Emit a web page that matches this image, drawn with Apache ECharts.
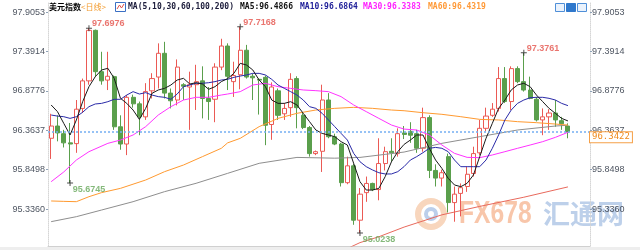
<!DOCTYPE html>
<html>
<head>
<meta charset="utf-8">
<title>美元指数 日线</title>
<script src="https://cdn.jsdelivr.net/npm/echarts@6/dist/echarts.min.js"></script>
<style>
  html, body { margin: 0; padding: 0; background: #fff; }
  #chart { width: 640px; height: 250px; }
</style>
</head>
<body>
<div id="chart"></div>
<script>
// daily candles
const opens = [96.26, 96.42, 96.32, 96.20, 96.19, 96.65, 97.01, 97.67, 97.13, 97.02,
  97.065, 96.41, 96.185, 96.795, 96.71, 96.54, 96.88, 97.06, 97.37, 96.85,
  96.76, 96.96, 96.93, 96.96, 97.01, 96.78, 96.77, 97.19, 97.465, 97.00,
  97.09, 97.41, 97.07, 97.03, 97.056, 96.44, 96.88, 96.58, 96.66, 97.04,
  96.56, 96.40, 96.06, 96.09, 96.76, 96.28, 96.185, 95.68, 95.90, 95.19,
  95.55, 95.67, 95.59, 95.93, 96.09, 96.06, 96.33, 96.35, 96.32, 96.13,
  96.53, 95.84, 95.74, 96.02, 95.42, 95.54, 95.63, 95.80, 96.07, 96.39,
  96.56, 96.65, 97.04, 96.74, 97.17, 97.00, 96.89, 96.77, 96.50, 96.54,
  96.59, 96.49, 96.42]
const closes = [96.42, 96.33, 96.20, 96.185, 96.64, 97.01, 97.67, 97.13, 97.01, 97.07,
  96.41, 96.185, 96.795, 96.71, 96.54, 96.87, 97.04, 97.37, 96.85, 96.75,
  97.19, 96.94, 96.96, 97.00, 96.78, 96.74, 97.19, 97.465, 97.07, 97.08,
  97.41, 97.06, 97.05, 97.02, 96.43, 96.93, 96.56, 96.65, 97.03, 96.66,
  96.40, 96.06, 96.085, 96.76, 96.28, 96.185, 95.68, 95.90, 95.19, 95.53,
  95.67, 95.59, 95.93, 96.085, 96.07, 96.32, 96.31, 96.30, 96.13, 96.53,
  95.84, 95.74, 95.81, 95.42, 95.53, 95.615, 95.79, 96.06, 96.39, 96.55,
  96.64, 97.04, 96.74, 97.17, 97.00, 96.89, 96.78, 96.50, 96.54, 96.59,
  96.50, 96.45, 96.3422]
const lows = [95.99, 96.22, 96.14, 95.6745, 96.07, 96.59, 96.96, 97.06, 96.96, 96.89,
  96.37, 96.11, 96.04, 96.66, 96.30, 96.50, 96.78, 96.91, 96.78, 96.65,
  96.69, 96.76, 96.37, 96.63, 96.52, 96.50, 96.47, 97.15, 96.89, 96.80,
  96.90, 97.04, 96.76, 96.57, 96.17, 96.24, 96.50, 96.50, 96.54, 96.39,
  96.38, 96.02, 96.04, 95.82, 96.26, 96.17, 95.63, 95.66, 95.13, 95.0238,
  95.43, 95.57, 95.45, 95.84, 95.95, 96.02, 96.25, 96.20, 96.07, 96.085,
  95.74, 95.63, 95.63, 95.29, 95.17, 95.24, 95.56, 95.76, 96.04, 96.35,
  96.54, 96.61, 96.72, 96.63, 96.98, 96.87, 96.77, 96.48, 96.30, 96.37,
  96.41, 96.37, 96.26]
const highs = [96.58, 96.56, 96.37, 96.46, 96.76, 97.04, 97.6976, 97.68, 97.39, 97.39,
  97.08, 96.56, 96.825, 96.83, 96.74, 96.98, 97.11, 97.50, 97.52, 96.91,
  97.29, 96.98, 97.13, 97.22, 97.20, 96.93, 97.24, 97.56, 97.50, 97.26,
  97.7168, 97.48, 97.10, 97.04, 97.08, 96.99, 96.91, 96.72, 97.11, 97.07,
  96.59, 96.42, 96.10, 96.96, 96.85, 96.32, 96.20, 96.02, 95.93, 95.61,
  95.76, 95.68, 96.26, 96.15, 96.26, 96.39, 96.42, 96.47, 96.37, 96.66,
  96.56, 95.92, 95.85, 96.06, 95.63, 95.67, 95.89, 96.15, 96.50, 96.66,
  96.72, 97.19, 97.19, 97.20, 97.20, 97.3761, 97.065, 96.80, 96.65, 96.64,
  96.76, 96.54, 96.455]

// moving averages as drawn (ma5 / ma10 per day, the slow ones as [day, value])
const ma5 = [96.695, 96.608, 96.455, 96.303, 96.499, 96.738, 96.934, 97.065, 97.152, 97.174,
  97.043, 96.782, 96.716, 96.629, 96.507, 96.651, 96.847, 96.891, 96.912, 96.956,
  97.021, 97.043, 96.969, 96.986, 96.969, 96.90, 96.934, 97.00, 97.04, 97.108,
  97.239, 97.217, 97.152, 97.021, 96.934, 96.76, 96.716, 96.716, 96.738, 96.695,
  96.586, 96.477, 96.368, 96.324, 96.303, 96.281, 96.216, 96.172, 95.933, 95.693,
  95.584, 95.584, 95.606, 95.759, 95.954, 96.085, 96.18, 96.237, 96.303, 96.303,
  96.129, 95.976, 95.867, 95.737, 95.65, 95.628, 95.672, 95.78, 96.02, 96.259,
  96.455, 96.651, 96.76, 96.891, 96.956, 96.978, 96.934, 96.825, 96.738, 96.651,
  96.586, 96.52, 96.4866]
const ma10 = [96.564, 96.55, 96.542, 96.52, 96.542, 96.60, 96.673, 96.708, 96.716, 96.738,
  96.769, 96.769, 96.825, 96.869, 96.838, 96.856, 96.825, 96.804, 96.795, 96.769,
  96.838, 96.934, 96.956, 96.978, 96.978, 96.986, 97.0, 97.021, 97.03, 97.056,
  97.073, 97.087, 97.108, 97.108, 97.087, 97.03, 96.956, 96.912, 96.869, 96.825,
  96.76, 96.673, 96.651, 96.586, 96.499, 96.412, 96.324, 96.237, 96.063, 95.954,
  95.889, 95.846, 95.81, 95.794, 95.794, 95.824, 95.89, 95.976, 96.02, 96.072,
  96.129, 96.141, 96.129, 96.085, 95.976, 95.889, 95.889, 95.889, 95.889, 95.976,
  96.129, 96.303, 96.499, 96.629, 96.716, 96.76, 96.79, 96.795, 96.795, 96.782,
  96.76, 96.716, 96.6864]
const ma30 = [[0, 95.693], [2, 95.82], [4, 95.976], [6, 96.085], [9, 96.194], [11, 96.237],
  [13, 96.303], [15, 96.412], [17, 96.564], [19, 96.673], [21, 96.76], [23, 96.795],
  [25, 96.795], [27, 96.825], [28, 96.838], [30, 96.869], [32, 96.956], [34, 96.978],
  [36, 96.934], [38, 96.912], [40, 96.891], [42, 96.882], [44, 96.869], [46, 96.804],
  [48, 96.695], [50, 96.608], [52, 96.52], [54, 96.433], [56, 96.38], [58, 96.368],
  [60, 96.303], [62, 96.172], [64, 96.063], [66, 96.011], [68, 96.007], [70, 96.042],
  [72, 96.085], [74, 96.129], [76, 96.172], [78, 96.216], [80, 96.272], [82, 96.3383]]
const ma60 = [[0, 95.441], [2, 95.436], [4, 95.432], [6, 95.497], [8, 95.55], [11, 95.606],
  [15, 95.715], [18, 95.824], [21, 95.911], [24, 96.02], [27, 96.129], [28, 96.2],
  [30, 96.259], [33, 96.412], [36, 96.52], [39, 96.586], [42, 96.629], [45, 96.651],
  [48, 96.664], [51, 96.651], [54, 96.629], [56, 96.62], [59, 96.594], [62, 96.573],
  [65, 96.542], [68, 96.507], [71, 96.499], [74, 96.477], [77, 96.464], [80, 96.446],
  [82, 96.4319]]
const ma100 = [[0, 95.171], [4, 95.236], [8, 95.323], [13, 95.432], [18, 95.563], [23, 95.672],
  [28, 95.802], [33, 95.933], [39, 96.01], [45, 96.0], [49, 96.01], [53, 96.05],
  [56, 96.08], [62, 96.194], [68, 96.281], [74, 96.368], [80, 96.42], [82, 96.43]]
const ma200 = [[47, 94.82], [49, 94.897], [52, 94.974], [56, 95.10], [62, 95.26], [68, 95.37],
  [75, 95.49], [82, 95.625]]

const highMarks = [[6, 97.6976], [30, 97.7168], [75, 97.3761]]
const lowMarks = [[3, 95.6745], [49, 95.0238]]
const lastPrice = 96.3422

const yTicks = [95.3360, 95.8498, 96.3637, 96.8776, 97.3914, 97.9053]
const maTexts = ['MA5:96.4866', 'MA10:96.6864', 'MA30:96.3383', 'MA60:96.4319']
// 83 trading days plus 3 empty slots on the right
const days = Array.from({ length: 86 }, (_, i) => 'D' + (i + 1))

const candles = opens.map((o, i) => [o, closes[i], lows[i], highs[i]])

const cross = 'path://M0,2.5H6V3.5H0Z M2.5,0H3.5V6H2.5Z'
const mono = '"DejaVu Sans Mono", monospace'
const cjk = '"Noto Sans CJK SC", sans-serif'

function yAxisCfg(pos, margin) {
  return {
    type: 'value',
    position: pos,
    min: 94.853,
    max: 98.027,
    axisLine: { show: true, lineStyle: { color: '#d6d6d6', type: 'dotted' } },
    axisTick: { show: true, customValues: yTicks, length: 2, lineStyle: { color: '#8fa3b8' } },
    axisLabel: {
      customValues: yTicks,
      formatter: (v) => v.toFixed(4),
      color: '#4f5662',
      fontSize: 9,
      fontFamily: 'Liberation Sans',
      margin: margin
    },
    splitLine: { show: false }
  }
}

function maLine(data, color) {
  return {
    type: 'line',
    data: data,
    symbol: 'none',
    lineStyle: { width: 1, color: color },
    silent: true,
    z: 3
  }
}

const option = {
  animation: false,
  backgroundColor: '#fff',
  grid: { left: 48, right: 50, top: 3, bottom: 4 },
  xAxis: {
    type: 'category',
    data: days,
    boundaryGap: true,
    axisLine: { lineStyle: { color: '#d0d0d0' } },
    axisTick: { show: false },
    axisLabel: { show: false },
    splitLine: { show: false }
  },
  yAxis: [yAxisCfg('left', 3), yAxisCfg('right', 2)],
  graphic: [
    // watermark
    { type: 'circle', shape: { cx: 431, cy: 214, r: 13 }, style: { fill: 'none', stroke: '#f8d6bd', lineWidth: 6 }, z: 0 },
    { type: 'circle', shape: { cx: 431, cy: 214, r: 5 }, style: { fill: 'none', stroke: '#bccfeb', lineWidth: 4 }, z: 0 },
    { type: 'text', x: 459, y: 214, scaleX: 0.77, z: 0,
      style: { text: 'FX678', fill: '#f8c6aa', font: 'bold 32px "Liberation Sans"', verticalAlign: 'middle' } },
    { type: 'text', x: 543, y: 214, z: 0,
      style: { text: '汇通网', fill: '#bdd0ea', font: 'bold 27px ' + cjk, verticalAlign: 'middle' } },
    // header
    { type: 'text', x: 49, y: 7, z: 100,
      style: { text: '美元指数', fill: '#000', font: 'bold 8px ' + cjk, verticalAlign: 'middle' } },
    { type: 'text', x: 81, y: 7, z: 100,
      style: { text: '<日线>', fill: '#f39a2c', font: '8px ' + cjk, verticalAlign: 'middle' } },
    { type: 'rect', shape: { x: 115.5, y: 2.5, width: 10, height: 9 }, style: { fill: '#fff', stroke: '#3a6fc4', lineWidth: 1 }, z: 100 },
    { type: 'polyline', shape: { points: [[117, 9], [119.5, 5], [121.5, 8], [124, 4]] }, style: { stroke: '#e0504a', lineWidth: 1 }, z: 101 },
    { type: 'text', x: 128, y: 7, z: 100,
      style: { text: 'MA(5,10,30,60,100,200)', fill: '#1b1b3a', font: 'bold 8px ' + mono, verticalAlign: 'middle' } },
    { type: 'text', x: 240, y: 7, z: 100,
      style: { text: maTexts[0], fill: '#111', font: 'bold 8px ' + mono, verticalAlign: 'middle' } },
    { type: 'text', x: 300, y: 7, z: 100,
      style: { text: maTexts[1], fill: '#22229a', font: 'bold 8px ' + mono, verticalAlign: 'middle' } },
    { type: 'text', x: 363, y: 7, z: 100,
      style: { text: maTexts[2], fill: '#ff22ff', font: 'bold 8px ' + mono, verticalAlign: 'middle' } },
    { type: 'text', x: 428, y: 7, z: 100,
      style: { text: maTexts[3], fill: '#ff9a38', font: 'bold 8px ' + mono, verticalAlign: 'middle' } },
    // small buttons top right
    { type: 'rect', shape: { x: 555.5, y: 3.5, width: 9, height: 8 }, style: { fill: '#eaf2fc', stroke: '#4f8fd8' }, z: 100 },
    { type: 'rect', shape: { x: 566.5, y: 3.5, width: 9, height: 8 }, style: { fill: '#2f78cc', stroke: '#2f78cc' }, z: 100 },
    { type: 'rect', shape: { x: 577.5, y: 3.5, width: 9, height: 8 }, style: { fill: '#eaf2fc', stroke: '#4f8fd8' }, z: 100 },
    // bottom band
    { type: 'rect', shape: { x: 0, y: 247, width: 640, height: 3 }, style: { fill: '#eeeeee' }, z: 0 }
  ],
  series: [
    {
      type: 'candlestick',
      data: candles,
      barWidth: 4.6,
      itemStyle: {
        color: '#ffffff',
        color0: '#5a9f4c',
        borderColor: '#eb5a55',
        borderColor0: '#5a9f4c',
        borderWidth: 1
      },
      markLine: {
        silent: true,
        symbol: 'none',
        data: [{ yAxis: lastPrice }],
        lineStyle: { type: [2, 2], color: '#74aef2', width: 1.5 },
        label: {
          position: 'end',
          distance: 0,
          offset: [0, 5],
          formatter: () => lastPrice.toFixed(4),
          color: '#f08a1c',
          fontSize: 9,
          fontFamily: mono,
          backgroundColor: '#fff',
          borderColor: '#f5a048',
          borderWidth: 1,
          padding: [1, 2, 0, 2]
        }
      },
      z: 2
    },
    maLine(ma200, '#e8695c'),
    maLine(ma100, '#8e8e8e'),
    maLine(ma60, '#ff9a30'),
    maLine(ma30, '#ff33ff'),
    maLine(ma10, '#2a2aa8'),
    maLine(ma5, '#1a1a1a'),
    {
      type: 'scatter',
      data: highMarks,
      symbol: cross,
      symbolSize: 6,
      itemStyle: { color: '#222' },
      label: {
        show: true,
        formatter: (p) => p.value[1].toFixed(4),
        position: [6, -1.5],
        align: 'left',
        verticalAlign: 'middle',
        color: '#e5534b',
        fontSize: 9,
        fontWeight: 'bold',
        fontFamily: 'Liberation Sans'
      },
      z: 5
    },
    {
      type: 'scatter',
      data: lowMarks,
      symbol: cross,
      symbolSize: 6,
      itemStyle: { color: '#222' },
      label: {
        show: true,
        formatter: (p) => p.value[1].toFixed(4),
        position: [5.7, 9.5],
        align: 'left',
        verticalAlign: 'middle',
        color: '#66a85a',
        fontSize: 9,
        fontWeight: 'bold',
        fontFamily: 'Liberation Sans'
      },
      z: 5
    }
  ]
}

const myChart = echarts.init(document.getElementById('chart'))
myChart.setOption(option)
</script>
</body>
</html>
